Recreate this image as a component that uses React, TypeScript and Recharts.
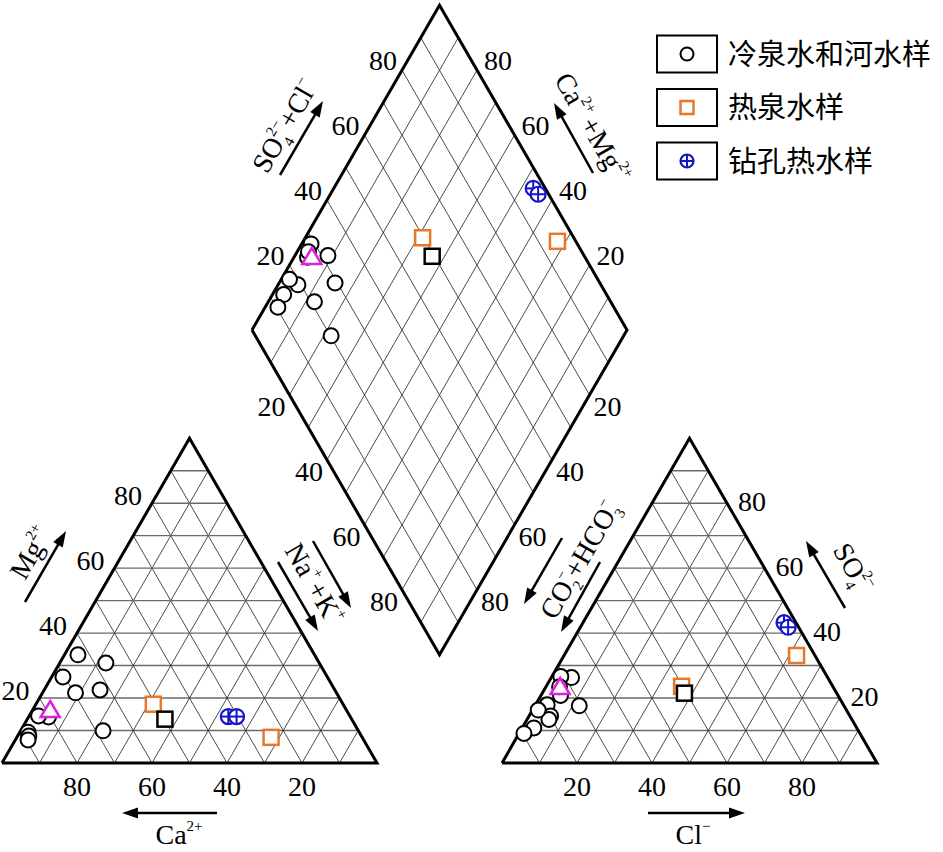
import React from 'react';
import { ScatterChart, Scatter, XAxis, YAxis, ReferenceLine, Legend } from 'recharts';

// ---------------- data ----------------
// cold spring & river samples: cations (Mg, Na+K in %) and anions (SO4, Cl in %)
const coldMg = [30.8, 22.5, 21.6, 9.9, 14.2, 14.5, 33.3, 9.5, 8.3, 7.1, 26.5];
const coldNaK = [12.3, 14.9, 8.8, 22.0, 5.3, 2.5, 3.6, 2.2, 3.0, 3.4, 3.0];
const coldSO4 = [17.9, 17.6, 26.3, 14.5, 13.4, 26.6, 20.8, 16.3, 10.8, 9.1, 23.5];
const coldCl = [3.1, 11.8, 5.4, 5.7, 5.8, 2.4, 5.2, 1.5, 3.1, 1.3, 3.6];

// hot spring samples
const hotMg = [18.1, 7.9];
const hotNaK = [31.3, 67.8];
const hotSO4 = [23.6, 33.1];
const hotCl = [36.1, 62.0];

// black square sample
const blackMg = [13.5];
const blackNaK = [36.7];
const blackSO4 = [21.5];
const blackCl = [37.9];

// borehole hot water samples
const boreMg = [14.3, 14.3];
const boreNaK = [53.2, 55.4];
const boreSO4 = [43.2, 41.8];
const boreCl = [53.6, 55.4];

// magenta triangle sample
const triMg = [16.3];
const triNaK = [4.7];
const triSO4 = [23.4];
const triCl = [3.8];

const tickValues = [20, 40, 60, 80];
const gridSteps = [10, 20, 30, 40, 50, 60, 70, 80, 90];
const legendLabels = ['冷泉水和河水样', '热泉水样', '钻孔热水样'];

// ---------------- geometry ----------------
const W = 943;
const H = 852;
const PX = 3.75; // px per unit
const OX = 2;
const OY = 763;
const GAP = 100 / 3;
const TH = 50 * Math.sqrt(3);
const RX = 100 + GAP;

const SERIF = '"Liberation Serif", "Times New Roman", serif';
const CJK = '"Noto Sans CJK SC", sans-serif';
const ORANGE = '#E8772A';
const BLUE = '#1414C8';
const MAGENTA = '#E020E0';

type Pt = { x: number; y: number };
const u = (px: number) => (px - OX) / PX;
const v = (py: number) => (OY - py) / PX;

const cat = (mg: number, nak: number): Pt => ({ x: nak + mg / 2, y: (mg * TH) / 100 });
const an = (so4: number, cl: number): Pt => ({ x: RX + cl + so4 / 2, y: (so4 * TH) / 100 });
const DL = { x: 50 + GAP / 2, y: TH + (GAP / 2) * Math.sqrt(3) };
const dia = (a: number, c: number): Pt => ({
  x: DL.x + (50 * (a + c)) / 100,
  y: DL.y + (TH * (c - a)) / 100,
});

function piperPoints(mg: number[], nak: number[], so4: number[], cl: number[]): Pt[] {
  const out: Pt[] = [];
  mg.forEach((m, i) => out.push(cat(m, nak[i])));
  so4.forEach((s, i) => out.push(an(s, cl[i])));
  nak.forEach((n, i) => out.push(dia(n, so4[i] + cl[i])));
  return out;
}

const coldPts = piperPoints(coldMg, coldNaK, coldSO4, coldCl);
const hotPts = piperPoints(hotMg, hotNaK, hotSO4, hotCl);
const blackPts = piperPoints(blackMg, blackNaK, blackSO4, blackCl);
const borePts = piperPoints(boreMg, boreNaK, boreSO4, boreCl);
const triPts = piperPoints(triMg, triNaK, triSO4, triCl);

// grid segments
type Seg = { a: Pt; b: Pt; kind: 'h' | 's' };
const segs: Seg[] = [];
gridSteps.forEach((k) => {
  [0, RX].forEach((ox) => {
    const hy = (k * TH) / 100;
    segs.push({ a: { x: ox + k / 2, y: hy }, b: { x: ox + 100 - k / 2, y: hy }, kind: 'h' });
    segs.push({ a: { x: ox + k, y: 0 }, b: { x: ox + k + (100 - k) / 2, y: ((100 - k) * TH) / 100 }, kind: 's' });
    segs.push({ a: { x: ox + 100 - k, y: 0 }, b: { x: ox + (100 - k) / 2, y: ((100 - k) * TH) / 100 }, kind: 's' });
  });
  segs.push({ a: dia(k, 0), b: dia(k, 100), kind: 's' });
  segs.push({ a: dia(0, k), b: dia(100, k), kind: 's' });
});

const leftOutline = [{ x: 0, y: 0 }, { x: 100, y: 0 }, { x: 50, y: TH }, { x: 0, y: 0 }];
const rightOutline = [{ x: RX, y: 0 }, { x: RX + 100, y: 0 }, { x: RX + 50, y: TH }, { x: RX, y: 0 }];
const diamondOutline = [dia(0, 0), dia(100, 0), dia(100, 100), dia(0, 100), dia(0, 0)];

// tick labels
type Lab = Pt & { text: string; dx: number; dy: number };
const tickLabels: Lab[] = [];
tickValues.forEach((t) => {
  const s = String(t);
  tickLabels.push({ ...cat(t, 0), text: s, dx: -24, dy: -8 });
  tickLabels.push({ ...cat(0, 100 - t), text: s, dx: 0, dy: 23 });
  tickLabels.push({ ...an(0, t), text: s, dx: 0, dy: 23 });
  tickLabels.push({ ...an(t, 100 - t), text: s, dx: 25, dy: -2 });
  tickLabels.push({ ...dia(0, t), text: s, dx: -19, dy: -10 });
  tickLabels.push({ ...dia(100 - t, 100), text: s, dx: 21, dy: -10 });
  tickLabels.push({ ...dia(t, 0), text: s, dx: -18, dy: 12 });
  tickLabels.push({ ...dia(100, 100 - t), text: s, dx: 18, dy: 12 });
});

// ---------------- annotations (titles, arrows) ----------------
type Ann = Pt & { draw: (cx: number, cy: number) => React.ReactElement };

const arrowAt = (x1: number, y1: number, x2: number, y2: number): Ann => ({
  x: u(x1),
  y: v(y1),
  draw: (cx, cy) => {
    const dx = x2 - x1;
    const dy = y2 - y1;
    const L = Math.hypot(dx, dy);
    const ux = dx / L;
    const uy = dy / L;
    const hl = 16;
    const hw = 5.5;
    const ex = cx + dx;
    const ey = cy + dy;
    const bx = ex - ux * hl;
    const by = ey - uy * hl;
    return (
      <g>
        <line x1={cx} y1={cy} x2={bx + ux * 2} y2={by + uy * 2} stroke="#000" strokeWidth={2.5} />
        <polygon points={`${ex},${ey} ${bx - uy * hw},${by + ux * hw} ${bx + uy * hw},${by - ux * hw}`} fill="#000" />
      </g>
    );
  },
});

const rotText = (px: number, py: number, angle: number, content: React.ReactNode): Ann => ({
  x: u(px),
  y: v(py),
  draw: (cx, cy) => (
    <g transform={`translate(${cx},${cy}) rotate(${angle})`}>
      <text x={0} y={9} textAnchor="middle" fontFamily={SERIF} fontSize={28} fill="#000">
        {content}
      </text>
    </g>
  ),
});

const SUP = 15;
const annotations: Ann[] = [
  rotText(31, 553, -60, (
    <>Mg<tspan dy={-13} fontSize={SUP}>2+</tspan></>
  )),
  rotText(314, 584, 60, (
    <>Na<tspan dy={-13} fontSize={SUP}>+</tspan><tspan dy={13} dx={3}>+K</tspan><tspan dy={-13} fontSize={SUP}>+</tspan></>
  )),
  rotText(179, 835, 0, (
    <>Ca<tspan dy={-13} fontSize={SUP}>2+</tspan></>
  )),
  rotText(693, 835, 0, (
    <>Cl<tspan dy={-13} fontSize={SUP}>−</tspan></>
  )),
  rotText(853, 568, 60, (
    <>SO<tspan dy={7} fontSize={SUP}>4</tspan><tspan dx={-7.5} dy={-20} fontSize={SUP}>2−</tspan></>
  )),
  rotText(580, 560, -60, (
    <>CO<tspan dy={7} fontSize={SUP}>2</tspan><tspan dx={-7.5} dy={-20} fontSize={SUP}>−</tspan><tspan dy={13}>+HCO</tspan><tspan dy={7} fontSize={SUP}>3</tspan><tspan dx={-7.5} dy={-20} fontSize={SUP}>−</tspan></>
  )),
  rotText(285, 126, -60, (
    <>SO<tspan dy={7} fontSize={SUP}>4</tspan><tspan dx={-7.5} dy={-20} fontSize={SUP}>2−</tspan><tspan dy={13}>+Cl</tspan><tspan dy={-13} fontSize={SUP}>−</tspan></>
  )),
  rotText(592, 128, 60, (
    <>Ca<tspan dy={-13} fontSize={SUP}>2+</tspan><tspan dy={13} dx={4}>+Mg</tspan><tspan dy={-13} fontSize={SUP}>2+</tspan></>
  )),
  arrowAt(25, 602, 66, 531),
  arrowAt(313, 541, 351, 608),
  arrowAt(278, 562, 318, 631),
  arrowAt(217, 813, 122, 813),
  arrowAt(648, 813, 745, 813),
  arrowAt(845, 608, 806, 541),
  arrowAt(562, 538, 524, 604),
  arrowAt(600, 562, 561, 632),
  arrowAt(280, 175, 323, 101),
  arrowAt(593, 173, 554, 103),
];

// ---------------- marker shapes ----------------
const CircleMark = ({ cx, cy, r = 7.5 }: any) => (
  <circle cx={cx} cy={cy} r={r} fill="#fff" stroke="#000" strokeWidth={2} />
);
const SquareMark = ({ cx, cy, color, s = 15 }: any) => (
  <rect x={cx - s / 2} y={cy - s / 2} width={s} height={s} fill="#fff" stroke={color} strokeWidth={2.5} />
);
const BoreMark = ({ cx, cy, r = 7.5 }: any) => (
  <g>
    <circle cx={cx} cy={cy} r={r} fill="#fff" stroke={BLUE} strokeWidth={2.2} />
    <line x1={cx - r} y1={cy} x2={cx + r} y2={cy} stroke={BLUE} strokeWidth={2} />
    <line x1={cx} y1={cy - r} x2={cx} y2={cy + r} stroke={BLUE} strokeWidth={2} />
  </g>
);
const TriMark = ({ cx, cy }: any) => (
  <polygon
    points={`${cx},${cy - 9} ${cx - 9.5},${cy + 7} ${cx + 9.5},${cy + 7}`}
    fill="#fff"
    stroke={MAGENTA}
    strokeWidth={2.5}
    strokeLinejoin="miter"
  />
);

const LegendBox = () => {
  const rows = [20, 73.5, 127];
  const markers = [
    <CircleMark key="c" cx={32} cy={rows[0]} r={6.5} />,
    <SquareMark key="s" cx={32} cy={rows[1]} color={ORANGE} s={13} />,
    <BoreMark key="b" cx={32} cy={rows[2]} r={6.5} />,
  ];
  return (
    <svg width={284} height={150} style={{ display: 'block', overflow: 'visible' }}>
      {legendLabels.map((lab, i) => (
        <g key={lab}>
          <rect x={2} y={rows[i] - 18.5} width={60} height={37} fill="#fff" stroke="#000" strokeWidth={2} />
          {markers[i]}
          <text x={73} y={rows[i] + 10.5} fontFamily={CJK} fontSize={29} fill="#000">
            {lab}
          </text>
        </g>
      ))}
    </svg>
  );
};

const noShape = () => <g />;

export default function App() {
  return (
    <div style={{ position: 'absolute', left: 0, top: 0, width: W, height: H, background: '#fff' }}>
      <ScatterChart width={W} height={H} margin={{ top: 0, right: 0, bottom: 0, left: 0 }}>
        <XAxis type="number" dataKey="x" domain={[u(0), u(W)]} allowDataOverflow hide />
        <YAxis type="number" dataKey="y" domain={[v(H), v(0)]} allowDataOverflow hide />
        {segs.map((sg, i) => (
          <ReferenceLine
            key={`g${i}`}
            segment={[sg.a, sg.b]}
            stroke={sg.kind === 'h' ? '#6a6a6a' : '#2a2a2a'}
            strokeWidth={sg.kind === 'h' ? 1.4 : 0.85}
            ifOverflow="visible"
          />
        ))}
        <Scatter data={leftOutline} line={{ stroke: '#000', strokeWidth: 3 }} lineType="joint" shape={noShape} isAnimationActive={false} />
        <Scatter data={rightOutline} line={{ stroke: '#000', strokeWidth: 3 }} lineType="joint" shape={noShape} isAnimationActive={false} />
        <Scatter data={diamondOutline} line={{ stroke: '#000', strokeWidth: 3 }} lineType="joint" shape={noShape} isAnimationActive={false} />
        <Scatter
          data={tickLabels}
          isAnimationActive={false}
          shape={(p: any) => (
            <text
              x={p.cx + p.payload.dx}
              y={p.cy + p.payload.dy + 9.5}
              textAnchor="middle"
              fontFamily={SERIF}
              fontSize={28}
              fill="#000"
            >
              {p.payload.text}
            </text>
          )}
        />
        <Scatter data={annotations} isAnimationActive={false} shape={(p: any) => p.payload.draw(p.cx, p.cy)} />
        <Scatter name="冷泉水和河水样" data={coldPts} isAnimationActive={false} shape={(p: any) => <CircleMark cx={p.cx} cy={p.cy} />} />
        <Scatter name="热泉水样" data={hotPts} isAnimationActive={false} shape={(p: any) => <SquareMark cx={p.cx} cy={p.cy} color={ORANGE} />} />
        <Scatter data={blackPts} isAnimationActive={false} shape={(p: any) => <SquareMark cx={p.cx} cy={p.cy} color="#000" />} />
        <Scatter name="钻孔热水样" data={borePts} isAnimationActive={false} shape={(p: any) => <BoreMark cx={p.cx} cy={p.cy} />} />
        <Scatter data={triPts} isAnimationActive={false} shape={(p: any) => <TriMark cx={p.cx} cy={p.cy} />} />
        <Legend
          layout="vertical"
          align="center"
          verticalAlign="middle"
          content={() => <LegendBox />}
          wrapperStyle={{ left: 655, top: 34, width: 284, height: 150 }}
        />
      </ScatterChart>
    </div>
  );
}
